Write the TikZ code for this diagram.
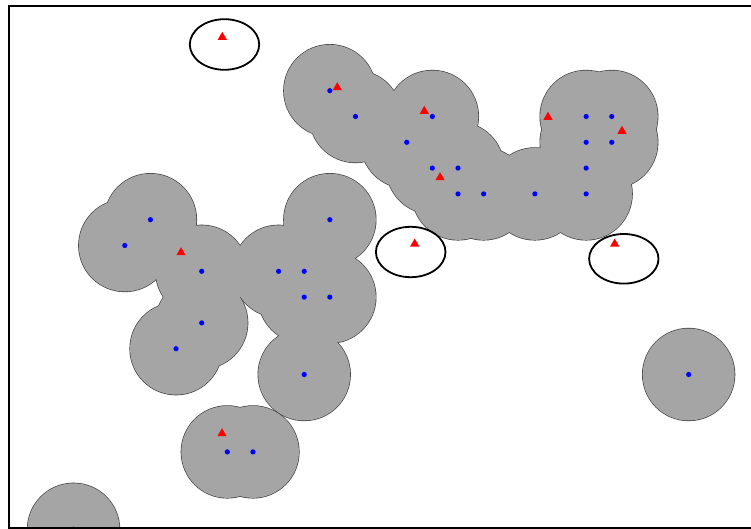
\documentclass[tikz,border=0pt]{standalone}
\definecolor{diskgray}{RGB}{165,165,165}
\definecolor{diskline}{RGB}{60,60,60}
\begin{document}
\begin{tikzpicture}[x=1pt,y=-1pt,
  diskedge/.style={draw=diskline,line width=1.3pt},
  diskfill/.style={fill=diskgray},
  bluedot/.style={fill=blue},
  redtri/.style={fill=red},
  ring/.style={draw=black,line width=1.8pt},
  frameline/.style={draw=black,line width=2pt}]
\useasboundingbox (0,0) rectangle (751,529);
\def\pts{8/0,9/1,11/2,12/1,12/3,13/3,13/4,14/4,16/4,18/4,18/3,18/2,19/2,18/1,19/1,
1/5,0/6,3/7,3/9,2/10,6/7,7/7,7/8,8/8,8/5,7/11,4/14,5/14,22/11,-2/17}
\begin{scope}
  \clip (9,5.8) rectangle (751,527);
  \foreach \c/\r in \pts
    \draw[diskedge] ({124.8+\c*25.63},{90.7+\r*25.8}) circle[radius=46pt];
  \foreach \c/\r in \pts
    \fill[diskfill] ({124.8+\c*25.63},{90.7+\r*25.8}) circle[radius=46pt];
  \foreach \c/\r in \pts
    \fill[bluedot] ({124.8+\c*25.63},{90.7+\r*25.8}) circle[radius=2.6pt];
\end{scope}
\foreach \x/\y in {337.3/86.7,424.3/110.3,440/176.7,548/116.3,622/130.3,181/251.7,222/432.7,222.3/36.3,414.7/243,614.7/243}
  \fill[redtri] (\x,\y) +(0,-4.5) -- +(4.6,3.5) -- +(-4.6,3.5) -- cycle;
\draw[ring] (224.5,44.5) ellipse[x radius=34.7pt, y radius=25.3pt];
\draw[ring] (410.7,252) ellipse[x radius=34.8pt, y radius=25.2pt];
\draw[ring] (623.8,258.8) ellipse[x radius=34.7pt, y radius=24.8pt];
\draw[frameline] (790,5.8) -- (9,5.8) -- (9,527.6) -- (790,527.6);
\end{tikzpicture}
\end{document}
